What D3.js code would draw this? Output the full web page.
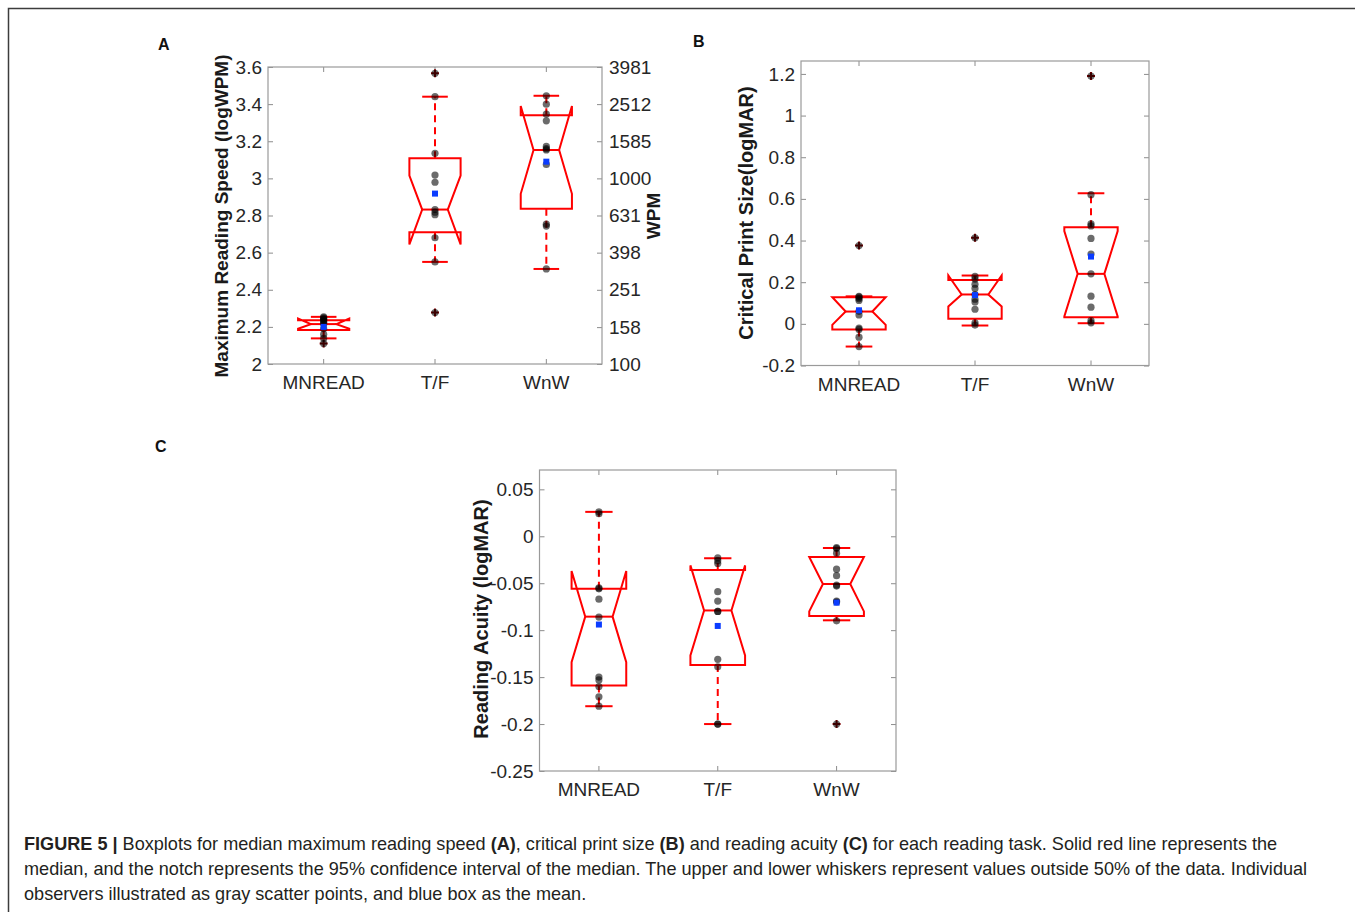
<!DOCTYPE html>
<html>
<head>
<meta charset="utf-8">
<script src="https://cdn.jsdelivr.net/npm/d3@7"></script>
<style>
  body { margin: 0; background: #fff; }
  svg text { font-family: "Liberation Sans", Arial, sans-serif; }
  .tick text { fill: #262626; }
</style>
</head>
<body>
<div id="chart"></div>
<script>
const svgWidth = 1355;
const svgHeight = 912;

const categories = ["MNREAD", "T/F", "WnW"];

// A: maximum reading speed (logWPM)
const speedTicks = [2, 2.2, 2.4, 2.6, 2.8, 3, 3.2, 3.4, 3.6];
const wpmTicks = [100, 158, 251, 398, 631, 1000, 1585, 2512, 3981];
const speedQ1 = [2.183, 2.71, 2.836];
const speedMedian = [2.215, 2.832, 3.153];
const speedQ3 = [2.236, 3.108, 3.34];
const speedNotchLo = [2.19, 2.644, 2.917];
const speedNotchHi = [2.245, 3.015, 3.39];
const speedWhiskerLo = [2.138, 2.55, 2.512];
const speedWhiskerHi = [2.254, 3.44, 3.445];
const speedMean = [2.2, 2.918, 3.09];
const speedPoints = [
  [2.254, 2.248, 2.243, 2.238, 2.232, 2.225, 2.215, 2.19, 2.16, 2.138, 2.11],
  [3.566, 3.44, 3.135, 3.018, 2.979, 2.832, 2.818, 2.804, 2.68, 2.55, 2.277],
  [3.445, 3.40, 3.346, 3.31, 3.172, 3.16, 3.153, 3.075, 2.753, 2.743, 2.512]
];
const speedOutliers = [[2.11], [3.566, 2.277], []];

// B: critical print size (logMAR)
const cpsTicks = [-0.2, 0, 0.2, 0.4, 0.6, 0.8, 1, 1.2];
const cpsQ1 = [-0.027, 0.024, 0.032];
const cpsMedian = [0.059, 0.141, 0.24];
const cpsQ3 = [0.128, 0.211, 0.464];
const cpsNotchLo = [-0.005, 0.083, 0.036];
const cpsNotchHi = [0.128, 0.232, 0.445];
const cpsWhiskerLo = [-0.109, -0.008, 0.003];
const cpsWhiskerHi = [0.132, 0.232, 0.627];
const cpsMean = [0.065, 0.138, 0.323];
const cpsPoints = [
  [0.376, 0.132, 0.128, 0.12, 0.112, 0.06, 0.043, -0.02, -0.027, -0.064, -0.109],
  [0.413, 0.228, 0.215, 0.19, 0.17, 0.14, 0.118, 0.105, 0.07, 0.005, -0.006],
  [1.19, 0.62, 0.48, 0.47, 0.41, 0.335, 0.24, 0.133, 0.08, 0.015, 0.005]
];
const cpsOutliers = [[0.376], [0.413], [1.19]];

// C: reading acuity (logMAR)
const acuityTicks = [-0.25, -0.2, -0.15, -0.1, -0.05, 0, 0.05];
const acuityQ1 = [-0.159, -0.137, -0.085];
const acuityMedian = [-0.0856, -0.079, -0.0508];
const acuityQ3 = [-0.056, -0.036, -0.022];
const acuityNotchLo = [-0.134, -0.127, -0.08];
const acuityNotchHi = [-0.037, -0.031, -0.022];
const acuityWhiskerLo = [-0.181, -0.2, -0.0895];
const acuityWhiskerHi = [0.026, -0.0234, -0.0125];
const acuityMean = [-0.094, -0.0955, -0.0707];
const acuityPoints = [
  [0.026, 0.024, -0.055, -0.056, -0.067, -0.086, -0.15, -0.153, -0.16, -0.171, -0.181],
  [-0.023, -0.026, -0.029, -0.059, -0.069, -0.08, -0.08, -0.131, -0.139, -0.2, -0.2],
  [-0.012, -0.013, -0.018, -0.035, -0.042, -0.052, -0.053, -0.069, -0.07, -0.09, -0.2]
];
const acuityOutliers = [[], [], [-0.2]];

const svg = d3.select("#chart")
  .append("svg")
  .attr("width", svgWidth)
  .attr("height", svgHeight);

// figure frame (top and left rules)
svg.append("path")
  .attr("d", `M8.5,${svgHeight} V8.5 H${svgWidth}`)
  .attr("fill", "none")
  .attr("stroke", "#3c3c3c")
  .attr("stroke-width", 1.5);

function drawPanel(p) {
  const g = svg.append("g");
  const x = d3.scaleBand().domain(categories).range([p.left, p.right]);
  const y = d3.scaleLinear().domain(p.domain).range([p.bottom, p.top]);
  const bw = x.bandwidth();
  const hw = bw * 0.23;
  const cx = c => x(c) + bw / 2;

  const leftAxis = d3.axisLeft(y).tickValues(p.ticks).tickFormat(d => String(d))
    .tickSizeInner(-5).tickSizeOuter(0).tickPadding(6);
  const bottomAxis = d3.axisBottom(x).tickSizeInner(-5).tickSizeOuter(0).tickPadding(12);
  const topAxis = d3.axisTop(x).tickSizeInner(-5).tickSizeOuter(0).tickFormat("");

  const gl = g.append("g").attr("transform", `translate(${p.left},0)`).call(leftAxis);
  const gb = g.append("g").attr("transform", `translate(0,${p.bottom})`).call(bottomAxis);
  const gt = g.append("g").attr("transform", `translate(0,${p.top})`).call(topAxis);
  let gr;
  if (p.rightTicks) {
    const yR = d3.scaleLog().domain([Math.pow(10, p.domain[0]), Math.pow(10, p.domain[1])])
      .range([p.bottom, p.top]);
    const rightAxis = d3.axisRight(yR).tickValues(p.rightTicks).tickFormat(d => String(d))
      .tickSizeInner(-5).tickSizeOuter(0).tickPadding(7);
    gr = g.append("g").attr("transform", `translate(${p.right},0)`).call(rightAxis);
  } else {
    const rightAxis = d3.axisRight(y).tickValues(p.ticks).tickFormat("")
      .tickSizeInner(-5).tickSizeOuter(0);
    gr = g.append("g").attr("transform", `translate(${p.right},0)`).call(rightAxis);
  }
  [gl, gb, gt, gr].forEach(a => {
    a.select(".domain").remove();
    a.selectAll(".tick line").attr("stroke", "#8c8c8c");
    a.selectAll(".tick text").attr("font-size", 19).attr("font-family", "Liberation Sans, Arial, sans-serif");
  });

  g.append("rect")
    .attr("x", p.left).attr("y", p.top)
    .attr("width", p.right - p.left).attr("height", p.bottom - p.top)
    .attr("fill", "none").attr("stroke", "#9a9a9a").attr("stroke-width", 1.2);

  // boxes
  categories.forEach((c, i) => {
    const xc = cx(c);
    const poly = [
      [xc - hw, p.q1[i]], [xc - hw, p.notchLo[i]], [xc - hw / 2, p.median[i]],
      [xc - hw, p.notchHi[i]], [xc - hw, p.q3[i]], [xc + hw, p.q3[i]],
      [xc + hw, p.notchHi[i]], [xc + hw / 2, p.median[i]], [xc + hw, p.notchLo[i]],
      [xc + hw, p.q1[i]]
    ];
    g.append("path")
      .attr("d", d3.line().x(d => d[0]).y(d => y(d[1]))(poly) + "Z")
      .attr("fill", "none").attr("stroke", "#ff0000").attr("stroke-width", 2)
      .attr("stroke-linejoin", "miter");
    g.append("line")
      .attr("x1", xc - hw / 2).attr("x2", xc + hw / 2)
      .attr("y1", y(p.median[i])).attr("y2", y(p.median[i]))
      .attr("stroke", "#ff0000").attr("stroke-width", 2);
    // whiskers
    [[p.q3[i], p.whiskerHi[i]], [p.q1[i], p.whiskerLo[i]]].forEach(w => {
      g.append("line")
        .attr("x1", xc).attr("x2", xc)
        .attr("y1", y(w[0])).attr("y2", y(w[1]))
        .attr("stroke", "#ff0000").attr("stroke-width", 2)
        .attr("stroke-dasharray", "7,5");
      g.append("line")
        .attr("x1", xc - hw / 2).attr("x2", xc + hw / 2)
        .attr("y1", y(w[1])).attr("y2", y(w[1]))
        .attr("stroke", "#ff0000").attr("stroke-width", 2);
    });
    // outliers
    p.outliers[i].forEach(v => {
      g.append("path")
        .attr("d", `M${xc - 4},${y(v)} H${xc + 4} M${xc},${y(v) - 4} V${y(v) + 4}`)
        .attr("stroke", "#8b0000").attr("stroke-width", 2);
    });
  });

  // individual observers
  categories.forEach((c, i) => {
    g.selectAll(null)
      .data(p.points[i])
      .enter()
      .append("circle")
      .attr("cx", cx(c))
      .attr("cy", d => y(d))
      .attr("r", 3.6)
      .attr("fill", "#000")
      .attr("fill-opacity", 0.58);
  });

  // means
  g.selectAll(null)
    .data(p.mean)
    .enter()
    .append("rect")
    .attr("x", (d, i) => cx(categories[i]) - 3)
    .attr("y", d => y(d) - 3)
    .attr("width", 6)
    .attr("height", 6)
    .attr("fill", "#0b3cff");

  // axis label
  g.append("text")
    .attr("transform", `translate(${p.labelX},${p.labelY}) rotate(-90)`)
    .attr("text-anchor", "middle")
    .attr("font-size", p.labelSize)
    .attr("font-weight", "bold")
    .attr("fill", "#1a1a1a")
    .text(p.label);

  if (p.rightLabel) {
    g.append("text")
      .attr("transform", `translate(${p.rightLabelX},${p.labelY}) rotate(-90)`)
      .attr("text-anchor", "middle")
      .attr("font-size", p.labelSize)
      .attr("font-weight", "bold")
      .attr("fill", "#1a1a1a")
      .text(p.rightLabel);
  }

  g.append("text")
    .attr("x", p.tagX).attr("y", p.tagY)
    .attr("font-size", 16)
    .attr("font-weight", "bold")
    .attr("fill", "#111")
    .text(p.tag);
}

drawPanel({
  left: 268, right: 602, top: 67, bottom: 364,
  domain: [2, 3.6], ticks: speedTicks, rightTicks: wpmTicks,
  q1: speedQ1, median: speedMedian, q3: speedQ3,
  notchLo: speedNotchLo, notchHi: speedNotchHi,
  whiskerLo: speedWhiskerLo, whiskerHi: speedWhiskerHi,
  mean: speedMean, points: speedPoints, outliers: speedOutliers,
  label: "Maximum Reading Speed (logWPM)", labelX: 228, labelY: 216, labelSize: 19,
  rightLabel: "WPM", rightLabelX: 660,
  tag: "A", tagX: 158, tagY: 50
});

drawPanel({
  left: 801, right: 1149, top: 61, bottom: 365.5,
  domain: [-0.2, 1.262], ticks: cpsTicks,
  q1: cpsQ1, median: cpsMedian, q3: cpsQ3,
  notchLo: cpsNotchLo, notchHi: cpsNotchHi,
  whiskerLo: cpsWhiskerLo, whiskerHi: cpsWhiskerHi,
  mean: cpsMean, points: cpsPoints, outliers: cpsOutliers,
  label: "Critical Print Size(logMAR)", labelX: 753, labelY: 213, labelSize: 20,
  tag: "B", tagX: 693, tagY: 47
});

drawPanel({
  left: 539.5, right: 896, top: 470, bottom: 771,
  domain: [-0.25, 0.0706], ticks: acuityTicks,
  q1: acuityQ1, median: acuityMedian, q3: acuityQ3,
  notchLo: acuityNotchLo, notchHi: acuityNotchHi,
  whiskerLo: acuityWhiskerLo, whiskerHi: acuityWhiskerHi,
  mean: acuityMean, points: acuityPoints, outliers: acuityOutliers,
  label: "Reading Acuity (logMAR)", labelX: 488, labelY: 619, labelSize: 20,
  tag: "C", tagX: 155, tagY: 452
});

// caption
const captionLines = [
  [["FIGURE 5 |", true], [" Boxplots for median maximum reading speed ", false], ["(A)", true],
   [", critical print size ", false], ["(B)", true], [" and reading acuity ", false], ["(C)", true],
   [" for each reading task. Solid red line represents the", false]],
  [["median, and the notch represents the 95% confidence interval of the median. The upper and lower whiskers represent values outside 50% of the data. Individual", false]],
  [["observers illustrated as gray scatter points, and blue box as the mean.", false]]
];
const caption = svg.append("text")
  .attr("font-size", 18.1)
  .attr("fill", "#231f20");
captionLines.forEach((line, li) => {
  line.forEach((seg, si) => {
    const t = caption.append("tspan")
      .attr("font-weight", seg[1] ? "bold" : "normal")
      .text(seg[0]);
    if (si === 0) t.attr("x", 24).attr("y", 850 + li * 25);
  });
});
</script>
</body>
</html>
